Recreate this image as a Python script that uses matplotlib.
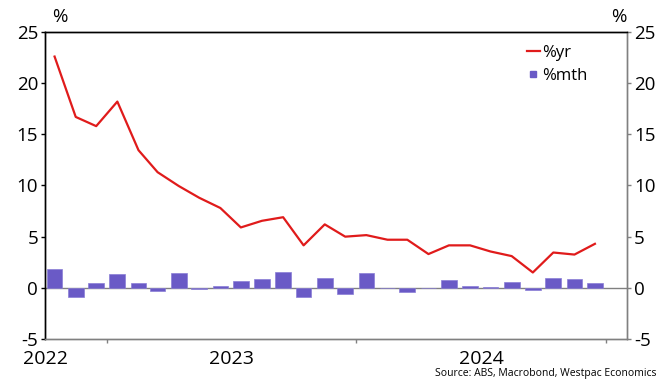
import matplotlib
matplotlib.use("Agg")
import matplotlib.pyplot as plt
from matplotlib.lines import Line2D
import pandas as pd

plt.rcParams['font.family'] = ['Open Sans', 'DejaVu Sans']
plt.rcParams['axes.unicode_minus'] = False

# monthly observations, Oct 2022 .. Dec 2024
months = pd.date_range("2022-10-01", "2024-12-01", freq="MS")

pct_yr = [22.6, 16.7, 15.8, 18.2, 13.45, 11.3, 9.95, 8.8, 7.8, 5.9, 6.55, 6.9,
          4.15, 6.2, 5.0, 5.15, 4.7, 4.7, 3.3, 4.15, 4.15, 3.55, 3.1, 1.5,
          3.45, 3.25, 4.3]
pct_mth = [1.8, -0.85, 0.45, 1.35, 0.45, -0.35, 1.45, -0.1, 0.2, 0.65, 0.85, 1.5,
           -0.85, 1.0, -0.65, 1.45, 0.02, -0.45, 0.02, 0.75, 0.2, 0.05, 0.55, -0.2,
           1.0, 0.85, 0.45]

year_labels = ["2022", "2023", "2024"]
year_label_pos = ["2022-10-02", "2023-07-02", "2024-07-02"]
year_ticks = ["2023-01-01", "2024-01-01", "2025-01-01"]

red = "#e01b1b"
purple = "#6a5ac6"
grey = "#808080"

x = months + pd.Timedelta(days=15)

fig = plt.figure(figsize=(6.69, 3.85), dpi=100)
ax = fig.add_axes([0.0673, 0.1195, 0.8699, 0.7974])

ax.axhline(0, color=grey, lw=1.0, zorder=1)
ax.plot(x, pct_yr, color=red, lw=1.6, zorder=3)
ax.bar(x, pct_mth, width=23, color=purple, edgecolor="#8a7ed6", lw=0.5, zorder=2)

ax.set_ylim(-5, 25)
ax.set_yticks(range(-5, 26, 5))
ax.set_xlim(pd.Timestamp("2022-10-02"), pd.Timestamp("2025-02-01"))

ax.set_xticks(pd.to_datetime(year_ticks))
ax.set_xticklabels([])
ax.set_xticks(pd.to_datetime(year_label_pos), minor=True)
ax.set_xticklabels(year_labels, minor=True, fontsize=14)
ax.tick_params(axis="x", which="major", length=3, color=grey, width=1)
ax.tick_params(axis="x", which="minor", length=0, pad=8)

ax.tick_params(axis="y", length=3, width=1, labelsize=13.5, pad=2, colors="black")

ax2 = ax.twinx()
ax2.set_ylim(-5, 25)
ax2.set_yticks(range(-5, 26, 5))
ax2.tick_params(axis="y", length=3, width=1, labelsize=13.5, pad=2,
                color=grey, labelcolor="black")

for a in (ax, ax2):
    a.spines["left"].set_color("black")
    a.spines["top"].set_color("black")
    a.spines["right"].set_color(grey)
    a.spines["bottom"].set_color(grey)
    for s in a.spines.values():
        s.set_linewidth(1.0)

handles = [Line2D([], [], color=red, lw=1.6),
           Line2D([], [], color=purple, marker="s", markersize=5, ls="none")]
ax.legend(handles, ["%yr", "%mth"], loc="upper right", bbox_to_anchor=(0.95, 0.99),
          frameon=False, fontsize=12, handlelength=0.8,
          handletextpad=0.15, labelspacing=0.4, borderaxespad=0.2)

fig.text(0.078, 0.955, "%", fontsize=13.5, ha="left", va="center")
fig.text(0.937, 0.955, "%", fontsize=13.5, ha="right", va="center")
fig.text(0.981, 0.015, "Source: ABS, Macrobond, Westpac Economics",
         fontsize=7.5, ha="right", va="bottom")

fig.savefig("out.png", dpi=100)
